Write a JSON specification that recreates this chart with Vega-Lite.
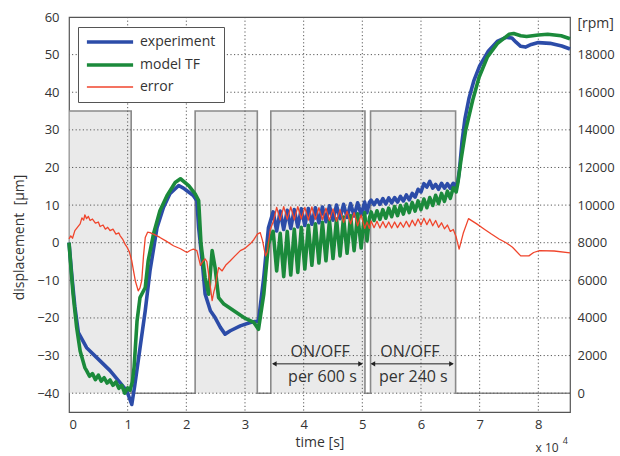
{
  "$schema": "https://vega.github.io/schema/vega-lite/v6.json",
  "width": 501,
  "height": 395,
  "autosize": {"type": "none"},
  "padding": {"left": 69, "top": 17, "right": 50, "bottom": 44},
  "background": "white",
  "config": {
    "font": "Open Sans",
    "view": {"stroke": "#555", "strokeWidth": 1.2},
    "axis": {
      "labelFont": "Open Sans", "labelFontSize": 13, "labelColor": "#333",
      "titleFont": "Open Sans", "titleFontSize": 14, "titleFontWeight": "normal", "titleColor": "#333",
      "domain": false, "ticks": false, "labelOverlap": false, "format": "d", "grid": false
    }
  },
  "datasets": {
    "rpm": [
      {"t": 0, "rpm": 15000}, {"t": 1.06, "rpm": 0}, {"t": 2.15, "rpm": 15000}, {"t": 3.21, "rpm": 0},
      {"t": 3.44, "rpm": 15000}, {"t": 5.045, "rpm": 0}, {"t": 5.14, "rpm": 15000}, {"t": 6.59, "rpm": 0},
      {"t": 8.54, "rpm": 0}
    ],
    "vgrid": [{"t": 1}, {"t": 2}, {"t": 3}, {"t": 4}, {"t": 5}, {"t": 6}, {"t": 7}, {"t": 8}],
    "hgrid": [{"d": -40}, {"d": -30}, {"d": -20}, {"d": -10}, {"d": 0}, {"d": 10}, {"d": 20}, {"d": 30}, {"d": 40}, {"d": 50}],
    "lines": [
      {"series": "experiment", "t": 0.00, "d": 0},
      {"series": "experiment", "t": 0.05, "d": -9},
      {"series": "experiment", "t": 0.10, "d": -17},
      {"series": "experiment", "t": 0.16, "d": -23.9},
      {"series": "experiment", "t": 0.30, "d": -27.9},
      {"series": "experiment", "t": 0.53, "d": -31.4},
      {"series": "experiment", "t": 0.70, "d": -34},
      {"series": "experiment", "t": 0.87, "d": -37.2},
      {"series": "experiment", "t": 0.985, "d": -39.4},
      {"series": "experiment", "t": 1.07, "d": -43},
      {"series": "experiment", "t": 1.12, "d": -38},
      {"series": "experiment", "t": 1.18, "d": -31.4},
      {"series": "experiment", "t": 1.30, "d": -18},
      {"series": "experiment", "t": 1.38, "d": -7.5},
      {"series": "experiment", "t": 1.50, "d": 4},
      {"series": "experiment", "t": 1.61, "d": 9.4},
      {"series": "experiment", "t": 1.72, "d": 13},
      {"series": "experiment", "t": 1.87, "d": 15.2},
      {"series": "experiment", "t": 1.95, "d": 14.5},
      {"series": "experiment", "t": 2.01, "d": 13.8},
      {"series": "experiment", "t": 2.12, "d": 12.5},
      {"series": "experiment", "t": 2.18, "d": 11.2},
      {"series": "experiment", "t": 2.21, "d": 4},
      {"series": "experiment", "t": 2.27, "d": -4.8},
      {"series": "experiment", "t": 2.32, "d": -13.6},
      {"series": "experiment", "t": 2.41, "d": -18.1},
      {"series": "experiment", "t": 2.49, "d": -19.9},
      {"series": "experiment", "t": 2.58, "d": -22.5},
      {"series": "experiment", "t": 2.66, "d": -24.3},
      {"series": "experiment", "t": 2.75, "d": -23.4},
      {"series": "experiment", "t": 2.92, "d": -22.1},
      {"series": "experiment", "t": 3.09, "d": -21.2},
      {"series": "experiment", "t": 3.23, "d": -20.8},
      {"series": "experiment", "t": 3.32, "d": -9.2},
      {"series": "experiment", "t": 3.40, "d": 4},
      {"series": "experiment", "t": 3.48, "d": 8.2},
      {"series": "experiment", "t": 3.54, "d": 3.1},
      {"series": "experiment", "t": 3.60, "d": 8.4},
      {"series": "experiment", "t": 3.66, "d": 3.5},
      {"series": "experiment", "t": 3.72, "d": 8.6},
      {"series": "experiment", "t": 3.78, "d": 3.8},
      {"series": "experiment", "t": 3.84, "d": 8.8},
      {"series": "experiment", "t": 3.90, "d": 4.2},
      {"series": "experiment", "t": 3.96, "d": 9.0},
      {"series": "experiment", "t": 4.02, "d": 4.6},
      {"series": "experiment", "t": 4.08, "d": 9.1},
      {"series": "experiment", "t": 4.14, "d": 4.9},
      {"series": "experiment", "t": 4.20, "d": 9.3},
      {"series": "experiment", "t": 4.26, "d": 5.3},
      {"series": "experiment", "t": 4.32, "d": 9.5},
      {"series": "experiment", "t": 4.38, "d": 5.6},
      {"series": "experiment", "t": 4.44, "d": 9.8},
      {"series": "experiment", "t": 4.50, "d": 6.0},
      {"series": "experiment", "t": 4.56, "d": 10.0},
      {"series": "experiment", "t": 4.62, "d": 6.4},
      {"series": "experiment", "t": 4.68, "d": 10.2},
      {"series": "experiment", "t": 4.74, "d": 6.7},
      {"series": "experiment", "t": 4.80, "d": 10.4},
      {"series": "experiment", "t": 4.86, "d": 7.1},
      {"series": "experiment", "t": 4.92, "d": 10.6},
      {"series": "experiment", "t": 4.98, "d": 7.4},
      {"series": "experiment", "t": 5.04, "d": 10.8},
      {"series": "experiment", "t": 5.08, "d": 8.0},
      {"series": "experiment", "t": 5.12, "d": 10.7},
      {"series": "experiment", "t": 5.15, "d": 11.3},
      {"series": "experiment", "t": 5.20, "d": 10.1},
      {"series": "experiment", "t": 5.25, "d": 11.4},
      {"series": "experiment", "t": 5.30, "d": 10.2},
      {"series": "experiment", "t": 5.35, "d": 11.7},
      {"series": "experiment", "t": 5.40, "d": 10.3},
      {"series": "experiment", "t": 5.45, "d": 11.9},
      {"series": "experiment", "t": 5.50, "d": 10.6},
      {"series": "experiment", "t": 5.55, "d": 12.0},
      {"series": "experiment", "t": 5.60, "d": 10.8},
      {"series": "experiment", "t": 5.65, "d": 12.3},
      {"series": "experiment", "t": 5.70, "d": 11.1},
      {"series": "experiment", "t": 5.75, "d": 12.7},
      {"series": "experiment", "t": 5.80, "d": 11.4},
      {"series": "experiment", "t": 5.85, "d": 13.1},
      {"series": "experiment", "t": 5.90, "d": 12.1},
      {"series": "experiment", "t": 5.95, "d": 14.2},
      {"series": "experiment", "t": 6.00, "d": 13.5},
      {"series": "experiment", "t": 6.05, "d": 15.7},
      {"series": "experiment", "t": 6.10, "d": 14.8},
      {"series": "experiment", "t": 6.15, "d": 16.3},
      {"series": "experiment", "t": 6.20, "d": 14.5},
      {"series": "experiment", "t": 6.25, "d": 15.5},
      {"series": "experiment", "t": 6.30, "d": 14.2},
      {"series": "experiment", "t": 6.35, "d": 15.8},
      {"series": "experiment", "t": 6.40, "d": 14.5},
      {"series": "experiment", "t": 6.45, "d": 15.7},
      {"series": "experiment", "t": 6.50, "d": 14.5},
      {"series": "experiment", "t": 6.55, "d": 15.8},
      {"series": "experiment", "t": 6.60, "d": 14.9},
      {"series": "experiment", "t": 6.63, "d": 16.5},
      {"series": "experiment", "t": 6.66, "d": 20},
      {"series": "experiment", "t": 6.70, "d": 27},
      {"series": "experiment", "t": 6.75, "d": 33},
      {"series": "experiment", "t": 6.82, "d": 38.5},
      {"series": "experiment", "t": 6.90, "d": 43},
      {"series": "experiment", "t": 7.00, "d": 47},
      {"series": "experiment", "t": 7.15, "d": 51},
      {"series": "experiment", "t": 7.30, "d": 53.5},
      {"series": "experiment", "t": 7.45, "d": 54.6},
      {"series": "experiment", "t": 7.55, "d": 54.4},
      {"series": "experiment", "t": 7.62, "d": 53.3},
      {"series": "experiment", "t": 7.70, "d": 52.2},
      {"series": "experiment", "t": 7.78, "d": 52.0},
      {"series": "experiment", "t": 7.88, "d": 52.7},
      {"series": "experiment", "t": 8.00, "d": 53.2},
      {"series": "experiment", "t": 8.20, "d": 53.0},
      {"series": "experiment", "t": 8.40, "d": 52.3},
      {"series": "experiment", "t": 8.54, "d": 51.5},

      {"series": "model TF", "t": 0.00, "d": 0},
      {"series": "model TF", "t": 0.04, "d": -8},
      {"series": "model TF", "t": 0.07, "d": -13.7},
      {"series": "model TF", "t": 0.13, "d": -22.5},
      {"series": "model TF", "t": 0.19, "d": -28.8},
      {"series": "model TF", "t": 0.27, "d": -33.2},
      {"series": "model TF", "t": 0.30, "d": -34.0},
      {"series": "model TF", "t": 0.35, "d": -35.5},
      {"series": "model TF", "t": 0.40, "d": -34.8},
      {"series": "model TF", "t": 0.45, "d": -36.4},
      {"series": "model TF", "t": 0.50, "d": -35.2},
      {"series": "model TF", "t": 0.55, "d": -36.8},
      {"series": "model TF", "t": 0.60, "d": -35.9},
      {"series": "model TF", "t": 0.65, "d": -37.3},
      {"series": "model TF", "t": 0.70, "d": -36.5},
      {"series": "model TF", "t": 0.75, "d": -37.9},
      {"series": "model TF", "t": 0.80, "d": -37.0},
      {"series": "model TF", "t": 0.85, "d": -38.7},
      {"series": "model TF", "t": 0.90, "d": -37.9},
      {"series": "model TF", "t": 0.95, "d": -40.0},
      {"series": "model TF", "t": 1.00, "d": -38.6},
      {"series": "model TF", "t": 1.04, "d": -39.2},
      {"series": "model TF", "t": 1.08, "d": -37.0},
      {"series": "model TF", "t": 1.11, "d": -33},
      {"series": "model TF", "t": 1.16, "d": -20.8},
      {"series": "model TF", "t": 1.21, "d": -14.6},
      {"series": "model TF", "t": 1.30, "d": -11.9},
      {"series": "model TF", "t": 1.35, "d": -4.8},
      {"series": "model TF", "t": 1.44, "d": 2.3},
      {"series": "model TF", "t": 1.55, "d": 8.5},
      {"series": "model TF", "t": 1.67, "d": 12.5},
      {"series": "model TF", "t": 1.81, "d": 16},
      {"series": "model TF", "t": 1.90, "d": 17},
      {"series": "model TF", "t": 2.04, "d": 15.2},
      {"series": "model TF", "t": 2.15, "d": 13},
      {"series": "model TF", "t": 2.21, "d": 11.2},
      {"series": "model TF", "t": 2.25, "d": -0.3},
      {"series": "model TF", "t": 2.32, "d": -9.2},
      {"series": "model TF", "t": 2.38, "d": -13.7},
      {"series": "model TF", "t": 2.44, "d": -2.1},
      {"series": "model TF", "t": 2.49, "d": -6.6},
      {"series": "model TF", "t": 2.55, "d": -14.6},
      {"series": "model TF", "t": 2.64, "d": -16.3},
      {"series": "model TF", "t": 2.81, "d": -18.1},
      {"series": "model TF", "t": 2.98, "d": -19.9},
      {"series": "model TF", "t": 3.15, "d": -21.2},
      {"series": "model TF", "t": 3.23, "d": -23},
      {"series": "model TF", "t": 3.32, "d": -13.7},
      {"series": "model TF", "t": 3.40, "d": -0.3},
      {"series": "model TF", "t": 3.48, "d": 3.0},
      {"series": "model TF", "t": 3.54, "d": -7.5},
      {"series": "model TF", "t": 3.60, "d": 2.5},
      {"series": "model TF", "t": 3.66, "d": -9.0},
      {"series": "model TF", "t": 3.72, "d": 3.0},
      {"series": "model TF", "t": 3.78, "d": -8.6},
      {"series": "model TF", "t": 3.84, "d": 3.6},
      {"series": "model TF", "t": 3.90, "d": -7.9},
      {"series": "model TF", "t": 3.96, "d": 4.1},
      {"series": "model TF", "t": 4.02, "d": -7.0},
      {"series": "model TF", "t": 4.08, "d": 4.6},
      {"series": "model TF", "t": 4.14, "d": -6.0},
      {"series": "model TF", "t": 4.20, "d": 5.0},
      {"series": "model TF", "t": 4.26, "d": -5.4},
      {"series": "model TF", "t": 4.32, "d": 5.4},
      {"series": "model TF", "t": 4.38, "d": -4.8},
      {"series": "model TF", "t": 4.44, "d": 5.9},
      {"series": "model TF", "t": 4.50, "d": -4.2},
      {"series": "model TF", "t": 4.56, "d": 6.3},
      {"series": "model TF", "t": 4.62, "d": -3.5},
      {"series": "model TF", "t": 4.68, "d": 6.8},
      {"series": "model TF", "t": 4.74, "d": -2.8},
      {"series": "model TF", "t": 4.80, "d": 7.2},
      {"series": "model TF", "t": 4.86, "d": -2.1},
      {"series": "model TF", "t": 4.92, "d": 7.7},
      {"series": "model TF", "t": 4.98, "d": -1.4},
      {"series": "model TF", "t": 5.04, "d": 8.0},
      {"series": "model TF", "t": 5.08, "d": 0.5},
      {"series": "model TF", "t": 5.12, "d": 6.5},
      {"series": "model TF", "t": 5.15, "d": 8.2},
      {"series": "model TF", "t": 5.20, "d": 5.9},
      {"series": "model TF", "t": 5.25, "d": 8.5},
      {"series": "model TF", "t": 5.30, "d": 6.2},
      {"series": "model TF", "t": 5.35, "d": 8.8},
      {"series": "model TF", "t": 5.40, "d": 6.5},
      {"series": "model TF", "t": 5.45, "d": 9.2},
      {"series": "model TF", "t": 5.50, "d": 6.9},
      {"series": "model TF", "t": 5.55, "d": 9.6},
      {"series": "model TF", "t": 5.60, "d": 7.2},
      {"series": "model TF", "t": 5.65, "d": 9.9},
      {"series": "model TF", "t": 5.70, "d": 7.6},
      {"series": "model TF", "t": 5.75, "d": 10.3},
      {"series": "model TF", "t": 5.80, "d": 8.0},
      {"series": "model TF", "t": 5.85, "d": 10.7},
      {"series": "model TF", "t": 5.90, "d": 8.4},
      {"series": "model TF", "t": 5.95, "d": 11.1},
      {"series": "model TF", "t": 6.00, "d": 8.8},
      {"series": "model TF", "t": 6.05, "d": 11.6},
      {"series": "model TF", "t": 6.10, "d": 9.3},
      {"series": "model TF", "t": 6.15, "d": 12.0},
      {"series": "model TF", "t": 6.20, "d": 9.9},
      {"series": "model TF", "t": 6.25, "d": 12.6},
      {"series": "model TF", "t": 6.30, "d": 10.4},
      {"series": "model TF", "t": 6.35, "d": 13.1},
      {"series": "model TF", "t": 6.40, "d": 11.0},
      {"series": "model TF", "t": 6.45, "d": 13.7},
      {"series": "model TF", "t": 6.50, "d": 11.8},
      {"series": "model TF", "t": 6.55, "d": 14.6},
      {"series": "model TF", "t": 6.60, "d": 13.5},
      {"series": "model TF", "t": 6.63, "d": 16},
      {"series": "model TF", "t": 6.68, "d": 21.8},
      {"series": "model TF", "t": 6.76, "d": 29.8},
      {"series": "model TF", "t": 6.88, "d": 37.8},
      {"series": "model TF", "t": 6.99, "d": 44},
      {"series": "model TF", "t": 7.13, "d": 49.3},
      {"series": "model TF", "t": 7.30, "d": 52.9},
      {"series": "model TF", "t": 7.50, "d": 55.4},
      {"series": "model TF", "t": 7.58, "d": 55.6},
      {"series": "model TF", "t": 7.70, "d": 55.0},
      {"series": "model TF", "t": 7.80, "d": 54.8},
      {"series": "model TF", "t": 8.00, "d": 55.2},
      {"series": "model TF", "t": 8.16, "d": 55.4},
      {"series": "model TF", "t": 8.39, "d": 55.0},
      {"series": "model TF", "t": 8.54, "d": 54.2},

      {"series": "error", "t": 0.00, "d": 1.0},
      {"series": "error", "t": 0.03, "d": 1.8},
      {"series": "error", "t": 0.06, "d": 1.2},
      {"series": "error", "t": 0.10, "d": 3.2},
      {"series": "error", "t": 0.14, "d": 4.0},
      {"series": "error", "t": 0.19, "d": 5.0},
      {"series": "error", "t": 0.22, "d": 6.6},
      {"series": "error", "t": 0.25, "d": 6.0},
      {"series": "error", "t": 0.27, "d": 7.4},
      {"series": "error", "t": 0.30, "d": 6.4},
      {"series": "error", "t": 0.33, "d": 7.0},
      {"series": "error", "t": 0.36, "d": 5.9},
      {"series": "error", "t": 0.40, "d": 6.3},
      {"series": "error", "t": 0.45, "d": 5.2},
      {"series": "error", "t": 0.50, "d": 5.5},
      {"series": "error", "t": 0.53, "d": 4.3},
      {"series": "error", "t": 0.58, "d": 4.7},
      {"series": "error", "t": 0.62, "d": 3.6},
      {"series": "error", "t": 0.66, "d": 4.1},
      {"series": "error", "t": 0.70, "d": 3.2},
      {"series": "error", "t": 0.75, "d": 3.6},
      {"series": "error", "t": 0.80, "d": 2.3},
      {"series": "error", "t": 0.85, "d": 2.6},
      {"series": "error", "t": 0.87, "d": 1.9},
      {"series": "error", "t": 0.92, "d": 0.8},
      {"series": "error", "t": 0.96, "d": -0.5},
      {"series": "error", "t": 0.99, "d": -1.2},
      {"series": "error", "t": 1.03, "d": -2.5},
      {"series": "error", "t": 1.07, "d": -4.8},
      {"series": "error", "t": 1.10, "d": -7.5},
      {"series": "error", "t": 1.13, "d": -10.1},
      {"series": "error", "t": 1.18, "d": -12.8},
      {"series": "error", "t": 1.21, "d": -12.0},
      {"series": "error", "t": 1.24, "d": -10.1},
      {"series": "error", "t": 1.27, "d": -3.5},
      {"series": "error", "t": 1.30, "d": 1.4},
      {"series": "error", "t": 1.34, "d": 2.8},
      {"series": "error", "t": 1.38, "d": 2.7},
      {"series": "error", "t": 1.45, "d": 2.2},
      {"series": "error", "t": 1.55, "d": 1.4},
      {"series": "error", "t": 1.65, "d": 0.5},
      {"series": "error", "t": 1.78, "d": -0.8},
      {"series": "error", "t": 1.90, "d": -1.6},
      {"series": "error", "t": 2.01, "d": -2.6},
      {"series": "error", "t": 2.07, "d": -2.0},
      {"series": "error", "t": 2.12, "d": -1.7},
      {"series": "error", "t": 2.18, "d": -2.1},
      {"series": "error", "t": 2.24, "d": -6.0},
      {"series": "error", "t": 2.28, "d": -5.0},
      {"series": "error", "t": 2.32, "d": -4.3},
      {"series": "error", "t": 2.35, "d": -5.0},
      {"series": "error", "t": 2.38, "d": -8.3},
      {"series": "error", "t": 2.44, "d": -15.4},
      {"series": "error", "t": 2.47, "d": -13.0},
      {"series": "error", "t": 2.49, "d": -11.9},
      {"series": "error", "t": 2.52, "d": -9.0},
      {"series": "error", "t": 2.55, "d": -6.6},
      {"series": "error", "t": 2.61, "d": -7.5},
      {"series": "error", "t": 2.67, "d": -6.0},
      {"series": "error", "t": 2.75, "d": -4.8},
      {"series": "error", "t": 2.83, "d": -3.5},
      {"series": "error", "t": 2.92, "d": -2.1},
      {"series": "error", "t": 3.00, "d": -1.5},
      {"series": "error", "t": 3.09, "d": -0.3},
      {"series": "error", "t": 3.15, "d": 0.8},
      {"series": "error", "t": 3.21, "d": 2.3},
      {"series": "error", "t": 3.26, "d": 2.7},
      {"series": "error", "t": 3.30, "d": 0.5},
      {"series": "error", "t": 3.35, "d": -3.5},
      {"series": "error", "t": 3.38, "d": -2.5},
      {"series": "error", "t": 3.43, "d": 3.5},
      {"series": "error", "t": 3.48, "d": 5.5},
      {"series": "error", "t": 3.54, "d": 9.4},
      {"series": "error", "t": 3.60, "d": 6.0},
      {"series": "error", "t": 3.66, "d": 9.6},
      {"series": "error", "t": 3.72, "d": 6.2},
      {"series": "error", "t": 3.78, "d": 9.5},
      {"series": "error", "t": 3.84, "d": 6.1},
      {"series": "error", "t": 3.90, "d": 9.6},
      {"series": "error", "t": 3.96, "d": 6.3},
      {"series": "error", "t": 4.02, "d": 9.4},
      {"series": "error", "t": 4.08, "d": 6.0},
      {"series": "error", "t": 4.14, "d": 9.5},
      {"series": "error", "t": 4.20, "d": 6.2},
      {"series": "error", "t": 4.26, "d": 9.3},
      {"series": "error", "t": 4.32, "d": 6.1},
      {"series": "error", "t": 4.38, "d": 9.2},
      {"series": "error", "t": 4.44, "d": 5.9},
      {"series": "error", "t": 4.50, "d": 9.0},
      {"series": "error", "t": 4.56, "d": 5.7},
      {"series": "error", "t": 4.62, "d": 8.8},
      {"series": "error", "t": 4.68, "d": 5.4},
      {"series": "error", "t": 4.74, "d": 8.4},
      {"series": "error", "t": 4.80, "d": 5.0},
      {"series": "error", "t": 4.86, "d": 8.0},
      {"series": "error", "t": 4.92, "d": 4.5},
      {"series": "error", "t": 4.98, "d": 7.4},
      {"series": "error", "t": 5.04, "d": 3.8},
      {"series": "error", "t": 5.08, "d": 5.5},
      {"series": "error", "t": 5.12, "d": 3.8},
      {"series": "error", "t": 5.15, "d": 5.8},
      {"series": "error", "t": 5.20, "d": 4.0},
      {"series": "error", "t": 5.25, "d": 5.7},
      {"series": "error", "t": 5.30, "d": 3.9},
      {"series": "error", "t": 5.35, "d": 5.6},
      {"series": "error", "t": 5.40, "d": 4.0},
      {"series": "error", "t": 5.45, "d": 5.5},
      {"series": "error", "t": 5.50, "d": 3.9},
      {"series": "error", "t": 5.55, "d": 5.5},
      {"series": "error", "t": 5.60, "d": 4.0},
      {"series": "error", "t": 5.65, "d": 5.4},
      {"series": "error", "t": 5.70, "d": 4.1},
      {"series": "error", "t": 5.75, "d": 5.7},
      {"series": "error", "t": 5.80, "d": 4.2},
      {"series": "error", "t": 5.85, "d": 6.0},
      {"series": "error", "t": 5.90, "d": 4.5},
      {"series": "error", "t": 5.95, "d": 6.3},
      {"series": "error", "t": 6.00, "d": 4.7},
      {"series": "error", "t": 6.05, "d": 6.5},
      {"series": "error", "t": 6.10, "d": 4.8},
      {"series": "error", "t": 6.15, "d": 6.3},
      {"series": "error", "t": 6.20, "d": 4.5},
      {"series": "error", "t": 6.25, "d": 5.9},
      {"series": "error", "t": 6.30, "d": 4.1},
      {"series": "error", "t": 6.35, "d": 5.3},
      {"series": "error", "t": 6.40, "d": 3.7},
      {"series": "error", "t": 6.45, "d": 4.7},
      {"series": "error", "t": 6.50, "d": 3.0},
      {"series": "error", "t": 6.55, "d": 3.5},
      {"series": "error", "t": 6.60, "d": 1.5},
      {"series": "error", "t": 6.65, "d": -1.7},
      {"series": "error", "t": 6.72, "d": 2.5},
      {"series": "error", "t": 6.81, "d": 6.4},
      {"series": "error", "t": 6.95, "d": 5.0},
      {"series": "error", "t": 7.08, "d": 3.6},
      {"series": "error", "t": 7.20, "d": 2.3},
      {"series": "error", "t": 7.33, "d": 1.0},
      {"series": "error", "t": 7.45, "d": 0.0},
      {"series": "error", "t": 7.56, "d": -1.2},
      {"series": "error", "t": 7.70, "d": -3.5},
      {"series": "error", "t": 7.84, "d": -3.5},
      {"series": "error", "t": 7.92, "d": -2.6},
      {"series": "error", "t": 8.02, "d": -2.1},
      {"series": "error", "t": 8.27, "d": -2.2},
      {"series": "error", "t": 8.54, "d": -2.7}
    ],
    "labels": [
      {"t": 4.28, "d": -29, "label": "ON/OFF"},
      {"t": 4.32, "d": -35.6, "label": "per 600 s"},
      {"t": 5.81, "d": -29, "label": "ON/OFF"},
      {"t": 5.87, "d": -35.6, "label": "per 240 s"}
    ],
    "arrows": [
      {"t1": 3.48, "t2": 4.99, "d": -32.2},
      {"t1": 5.16, "t2": 6.54, "d": -32.2}
    ],
    "heads": [
      {"t": 3.50, "d": -32.2, "dir": "left"},
      {"t": 4.97, "d": -32.2, "dir": "right"},
      {"t": 5.18, "d": -32.2, "dir": "left"},
      {"t": 6.52, "d": -32.2, "dir": "right"}
    ]
  },
  "layer": [
    {
      "data": {"name": "rpm"},
      "layer": [
        {
          "mark": {"type": "area", "interpolate": "step-after", "color": "#d8d8d8", "opacity": 0.55},
          "encoding": {
            "x": {"field": "t", "type": "quantitative", "scale": {"domain": [0, 8.54], "nice": false, "zero": false},
                  "axis": {"values": [0,1,2,3,4,5,6,7,8], "format": "d", "title": "time [s]", "labelPadding": 6, "titlePadding": 4}},
            "y": {"field": "rpm", "type": "quantitative", "scale": {"domain": [-1000, 20000], "nice": false, "zero": false},
                  "axis": {"orient": "right", "values": [0,2000,4000,6000,8000,10000,12000,14000,16000,18000],
                           "format": "d", "labelPadding": 7, "title": "[rpm]", "titleAngle": 0, "titleX": 7, "titleY": 10,
                           "titleAlign": "left", "titleBaseline": "alphabetic"}}
          }
        },
        {
          "mark": {"type": "line", "interpolate": "step-after", "color": "#8a8a8a", "strokeWidth": 1.6},
          "encoding": {
            "x": {"field": "t", "type": "quantitative"},
            "y": {"field": "rpm", "type": "quantitative"}
          }
        }
      ]
    },
    {
      "layer": [
        {
          "data": {"name": "vgrid"},
          "mark": {"type": "rule", "color": "#5a5a5a", "strokeWidth": 1, "strokeDash": [1.2, 2.4]},
          "encoding": {
            "x": {"field": "t", "type": "quantitative"}
          }
        },
        {
          "data": {"name": "hgrid"},
          "mark": {"type": "rule", "color": "#5a5a5a", "strokeWidth": 1, "strokeDash": [1.2, 2.4]},
          "encoding": {
            "y": {"field": "d", "type": "quantitative", "scale": {"domain": [-45, 60], "nice": false, "zero": false},
                  "axis": {"orient": "left", "values": [-40,-30,-20,-10,0,10,20,30,40,50,60], "tickCount": 11, "labelOverlap": false, "format": "d",
                           "title": "displacement\u00a0 [µm]", "labelPadding": 10, "titlePadding": 10, "titleY": 220}}
          }
        },
        {
          "data": {"name": "lines"},
          "mark": {"type": "line", "strokeJoin": "round"},
          "encoding": {
            "x": {"field": "t", "type": "quantitative", "title": "time [s]"},
            "y": {"field": "d", "type": "quantitative"},
            "color": {"field": "series", "type": "nominal",
                      "scale": {"domain": ["experiment", "model TF", "error"], "range": ["#2c4ca8", "#1b8a3b", "#f0452c"]},
                      "legend": {"orient": "none", "legendX": 9, "legendY": 10, "title": null, "strokeColor": "#555",
                                 "fillColor": "white", "padding": 8, "symbolType": "M-3.3,0H3.3", "symbolSize": 196,
                                 "symbolOffset": 17, "symbolStrokeWidth": 3.6,
                                 "labelFontSize": 14, "labelFont": "Open Sans", "labelColor": "#333", "rowPadding": 7, "labelOffset": 23,
                                 "encode": {"symbols": {"update": {"strokeWidth": {"signal": "datum.value === 'error' ? 1.3 : 3.6"}}}}}},
            "strokeWidth": {"condition": {"test": "datum.series === 'error'", "value": 1.3}, "value": 3.6},
            "order": {"field": "t", "type": "quantitative"}
          }
        },
        {
          "data": {"name": "arrows"},
          "mark": {"type": "rule", "color": "#222", "strokeWidth": 1},
          "encoding": {
            "x": {"field": "t1", "type": "quantitative"},
            "x2": {"field": "t2"},
            "y": {"field": "d", "type": "quantitative"}
          }
        },
        {
          "data": {"name": "heads"},
          "mark": {"type": "point", "filled": true, "color": "#222", "size": 28, "opacity": 1},
          "encoding": {
            "x": {"field": "t", "type": "quantitative"},
            "y": {"field": "d", "type": "quantitative"},
            "shape": {"field": "dir", "type": "nominal", "scale": {"domain": ["left", "right"], "range": ["triangle-left", "triangle-right"]}, "legend": null}
          }
        },
        {
          "data": {"name": "labels"},
          "mark": {"type": "text", "fontSize": 16, "color": "#333", "font": "Open Sans", "baseline": "middle", "align": "center"},
          "encoding": {
            "x": {"field": "t", "type": "quantitative"},
            "y": {"field": "d", "type": "quantitative"},
            "text": {"field": "label"}
          }
        },
        {
          "data": {"values": [{"t": 8.15, "d": -54.6, "label": "x 10"}]},
          "mark": {"type": "text", "fontSize": 12, "color": "#333", "font": "Open Sans", "baseline": "middle", "align": "center"},
          "encoding": {
            "x": {"field": "t", "type": "quantitative"},
            "y": {"field": "d", "type": "quantitative"},
            "text": {"field": "label"}
          }
        },
        {
          "data": {"values": [{"t": 8.46, "d": -52.8, "label": "4"}]},
          "mark": {"type": "text", "fontSize": 9, "color": "#333", "font": "Open Sans", "baseline": "middle", "align": "center"},
          "encoding": {
            "x": {"field": "t", "type": "quantitative"},
            "y": {"field": "d", "type": "quantitative"},
            "text": {"field": "label"}
          }
        }
      ]
    }
  ],
  "resolve": {"scale": {"y": "independent"}, "axis": {"y": "independent"}}
}
